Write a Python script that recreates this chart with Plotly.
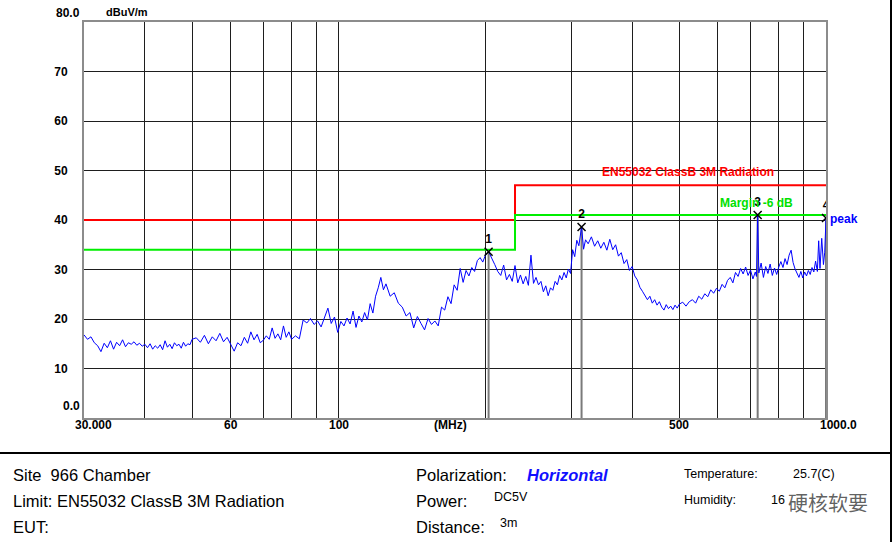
import math
import plotly.graph_objects as go

# ---------------- data ----------------
# measured peak trace: (frequency MHz, level dBuV/m)
trace_points = [
    (30.0, 16.8), (30.5, 15.9), (31.0, 16.4), (31.5, 15.2), (32.0, 14.6), (32.5, 13.4), (33.0, 15.1),
    (33.5, 14.2), (34.0, 15.6), (34.5, 13.9), (35.0, 15.3), (35.5, 14.6), (36.0, 15.8), (36.5, 14.4),
    (37.0, 15.2), (37.5, 14.9), (38.0, 15.4), (38.5, 14.7), (39.0, 15.1), (39.5, 14.5), (40.0, 14.9),
    (40.5, 14.2), (41.0, 15.0), (41.5, 13.9), (42.0, 14.6), (42.5, 14.1), (43.0, 14.8), (43.5, 13.8),
    (44.0, 15.6), (44.5, 14.3), (45.0, 14.9), (45.5, 14.0), (46.0, 15.2), (46.5, 14.6), (47.0, 14.9),
    (47.5, 14.1), (48.0, 15.3), (48.5, 14.5), (49.0, 15.0), (49.5, 14.8), (50.0, 15.9),
    (51, 16.2), (52, 15.3), (53, 16.7), (54, 15.0), (55, 16.4), (56, 15.6), (57, 17.1), (58, 15.4),
    (59, 16.3), (60, 14.9), (61, 13.5), (62, 15.2), (63, 14.6), (64, 16.3), (65, 15.1), (66, 17.4),
    (67, 15.8), (68, 16.9), (69, 15.2), (70, 15.7), (71, 16.6), (72, 15.9), (73, 18.2), (74, 16.1),
    (75, 17.0), (76, 15.8), (77, 18.6), (78, 16.3), (79, 17.4), (80, 15.9),
    (81.5, 16.6), (83, 16.0), (84.5, 19.8), (86, 19.2), (87.5, 20.1), (89, 18.9), (90.5, 19.6),
    (92, 18.4), (93.5, 20.3), (95, 22.2), (96.5, 19.1), (98, 20.4), (99.5, 17.3), (101, 19.5),
    (102.5, 18.6), (104, 20.2), (105.5, 19.0), (107, 21.6), (108.5, 18.3), (110, 20.6), (111.5, 19.4),
    (113, 21.3), (114.5, 19.8), (116, 23.1), (117.5, 21.2), (119, 24.6),
    (120.5, 26.3), (122, 28.4), (123.5, 25.9), (125, 27.1), (127.5, 24.6), (130, 25.3), (132.5, 23.2),
    (135, 22.4), (137.5, 20.6), (140, 21.3), (142.5, 18.2), (145, 20.5), (147.5, 19.1), (150, 17.8),
    (152.5, 20.1), (155, 18.9), (157.5, 19.6), (160, 18.6), (162.5, 22.4), (165, 21.8), (167.5, 24.5),
    (170, 23.1), (172.5, 26.9), (175, 25.8), (177.5, 30.2), (180, 27.4), (182.5, 29.8), (185, 28.7),
    (187.5, 30.4), (190, 29.6), (192.5, 31.8), (195, 32.4), (197.5, 31.5), (200, 32.9),
    (203, 33.6), (206, 32.4), (209, 31.0), (212, 29.6), (215, 28.8), (218, 30.9), (221, 27.9),
    (224, 29.0), (227, 27.6), (230, 30.8), (233, 27.3), (236, 28.9), (239, 27.1), (242, 28.6),
    (245, 26.8), (248, 32.9), (251, 27.2), (254, 28.4), (257, 26.9), (260, 27.6), (263, 25.5),
    (266, 26.7), (269, 24.7), (272, 26.3), (275, 25.8), (278, 27.6), (281, 26.9), (284, 28.8),
    (287, 27.9), (290, 29.4), (293, 28.3), (296, 30.1), (299, 29.2),
    (302, 34.0), (305, 32.6), (308, 35.9), (311, 34.8), (315, 38.6), (318, 34.1), (321, 36.0),
    (325, 35.2), (330, 36.6), (335, 34.7), (340, 35.8), (345, 34.3), (350, 35.5), (355, 33.9),
    (360, 36.1), (365, 34.0), (370, 35.0), (375, 32.7), (380, 33.4), (385, 31.2), (390, 32.0),
    (395, 29.8), (400, 30.6), (405, 28.7), (410, 27.9), (415, 26.4), (420, 25.6), (425, 24.8),
    (430, 23.9), (435, 24.6), (440, 23.2), (445, 23.9), (450, 22.8), (455, 23.5), (460, 22.4),
    (465, 21.8), (470, 22.9), (475, 22.1), (480, 22.6), (485, 21.9), (490, 22.8), (495, 22.2),
    (500, 23.0),
    (508, 23.4), (516, 22.6), (524, 23.5), (532, 23.9), (540, 23.2), (548, 24.6), (556, 24.0),
    (564, 25.1), (572, 24.5), (580, 25.9), (588, 25.2), (596, 26.2), (604, 25.6), (612, 27.0),
    (620, 26.3), (628, 27.8), (636, 28.4), (644, 27.3), (652, 29.4), (660, 28.6), (668, 30.2),
    (676, 29.1), (684, 30.5), (692, 28.8), (700, 29.9), (708, 28.1), (716, 29.5), (720, 28.6),
    (724, 41.0), (728, 29.3), (736, 31.3), (744, 28.4), (752, 30.6), (760, 29.2), (768, 31.1),
    (776, 28.8), (784, 30.3), (792, 29.0), (800, 30.5), (808, 31.6), (816, 30.4), (824, 32.2),
    (832, 31.0), (840, 32.9), (848, 33.9), (856, 31.4), (864, 30.1), (872, 29.2), (880, 28.4),
    (888, 29.6), (896, 28.3), (904, 29.5), (912, 28.7), (920, 29.8), (928, 29.0), (936, 30.4),
    (944, 29.5), (952, 31.7), (960, 29.6), (966, 35.8), (972, 30.2), (980, 36.3), (988, 31.0),
    (994, 33.5), (1000, 40.4),
]
trace_freq_mhz = [p[0] for p in trace_points]
trace_level_dbuv = [p[1] for p in trace_points]

limit_freq_mhz = [30, 230, 230, 1000]
limit_level_dbuv = [40, 40, 47, 47]
margin_freq_mhz = [30, 230, 230, 1000]
margin_level_dbuv = [34, 34, 41, 41]

marker_freq_mhz = [203, 315, 724, 1000]
marker_level_dbuv = [33.6, 38.6, 41.0, 40.4]
marker_labels = ["1", "2", "3", "4"]

y_tick_values = [10, 20, 30, 40, 50, 60, 70]
y_tick_labels = ["10", "20", "30", "40", "50", "60", "70"]
x_tick_values = [60, 100, 500]
x_tick_labels = ["60", "100", "500"]
x_grid_values = [40, 50, 60, 70, 80, 90, 100, 200, 300, 400, 500, 600, 700, 800, 900]

FONT = "Arial, Liberation Sans, sans-serif"

fig = go.Figure()

# marker drop lines
mx, my = [], []
for f, v in zip(marker_freq_mhz, marker_level_dbuv):
    mx += [f, f, None]
    my += [0, v, None]
fig.add_trace(go.Scatter(x=mx, y=my, mode="lines", line=dict(color="#7a7a7a", width=2),
                         hoverinfo="skip"))

# limit and margin
fig.add_trace(go.Scatter(x=limit_freq_mhz, y=limit_level_dbuv, mode="lines",
                         line=dict(color="#ff0000", width=2)))
fig.add_trace(go.Scatter(x=margin_freq_mhz, y=margin_level_dbuv, mode="lines",
                         line=dict(color="#00ee00", width=2)))

# measured trace
fig.add_trace(go.Scatter(x=trace_freq_mhz, y=trace_level_dbuv, mode="lines",
                         line=dict(color="#0000ff", width=1)))

# peak markers
fig.add_trace(go.Scatter(x=marker_freq_mhz, y=marker_level_dbuv, mode="markers+text",
                         text=marker_labels, textposition="top center",
                         textfont=dict(family=FONT, size=12, color="black", weight="bold"),
                         marker=dict(symbol="x-thin-open", size=8, color="black",
                                     line=dict(color="black", width=1.5))))

fig.update_layout(
    width=894, height=542,
    margin=dict(l=84, r=68, t=22, b=124),
    paper_bgcolor="white", plot_bgcolor="white",
    showlegend=False,
    font=dict(family=FONT, color="black"),
)

fig.update_xaxes(
    type="log", range=[math.log10(30), math.log10(1000)],
    tickmode="array", tickvals=x_tick_values, ticktext=x_tick_labels,
    showticklabels=False,
    showgrid=True, gridcolor="#1e1e1e", gridwidth=1,
    minor=dict(tickmode="array", tickvals=x_grid_values, showgrid=True,
               gridcolor="#1e1e1e", gridwidth=1, ticks=""),
    ticks="", showline=True, mirror=True, linecolor="#8c8c8c", linewidth=2, zeroline=False,
)
fig.update_yaxes(
    range=[0, 80],
    tickmode="array", tickvals=y_tick_values, ticktext=y_tick_labels,
    tickfont=dict(family=FONT, size=12, color="black", weight="bold"),
    showgrid=True, gridcolor="#1e1e1e", gridwidth=1,
    ticks="", ticklabelstandoff=12,
    showline=True, mirror=True, linecolor="#8c8c8c", linewidth=2, zeroline=False,
)

def px2x(px):
    return (px - 84) / 742.0

def px2y(py):
    return (418 - py) / 396.0

ann = []
def add(text, px, py, size=12, color="black", bold=False, italic=False, xanchor="left",
        family=FONT):
    t = text
    if bold:
        t = "<b>" + t + "</b>"
    if italic:
        t = "<i>" + t + "</i>"
    ann.append(dict(text=t, x=px2x(px), y=px2y(py), xref="paper", yref="paper",
                    xanchor=xanchor, yanchor="middle", showarrow=False,
                    font=dict(family=family, size=size, color=color)))

# x tick labels placed through the x axis
for v, lab in zip(x_tick_values, x_tick_labels):
    ann.append(dict(text="<b>" + lab + "</b>", x=math.log10(v), y=px2y(425), xref="x",
                    yref="paper", xanchor="center", yanchor="middle", showarrow=False,
                    font=dict(family=FONT, size=12, color="black")))

# axis extras
add("80.0", 82, 13, bold=True, xanchor="right")
add("0.0", 82, 406, bold=True, xanchor="right")
add("dBuV/m", 104, 12, size=11, bold=True)
add("30.000", 93, 425, bold=True, xanchor="center")
add("(MHz)", 450, 425, bold=True, xanchor="center")
add("1000.0", 838, 425, bold=True, xanchor="center")

# in-plot labels
add("EN55032 ClassB 3M Radiation", 688, 172, bold=True, color="#ff0000", xanchor="center")
add("Margin -6 dB", 756, 203, bold=True, color="#00e000", xanchor="center")
add("peak", 828, 219, bold=True, color="#0000ff")

# footer
add("Site  966 Chamber", 11, 475, size=16.5)
add("Limit: EN55032 ClassB 3M Radiation", 11, 501, size=16.5)
add("EUT:", 11, 527, size=16.5)
add("Polarization:", 414, 475, size=16.5)
add("Horizontal", 525, 475, size=16.5, bold=True, italic=True, color="#1010ff")
add("Power:", 414, 501, size=16.5)
add("DC5V", 492, 497, size=12.5)
add("Distance:", 414, 527, size=16.5)
add("3m", 498, 523, size=12.5)
add("Temperature:", 682, 474, size=12.5)
add("25.7(C)", 791, 474, size=12.5)
add("Humidity:", 682, 500, size=12.5)
add("16", 769, 500, size=12.5)
add("硬核软要", 786, 503, size=20, color="rgba(70,70,70,0.85)",
    family="Noto Sans CJK SC")

fig.update_layout(annotations=ann)

# footer frame lines
fig.add_shape(type="line", xref="paper", yref="paper", x0=px2x(0), x1=px2x(891),
              y0=px2y(453), y1=px2y(453), line=dict(color="black", width=2))
fig.add_shape(type="line", xref="paper", yref="paper", x0=px2x(891), x1=px2x(891),
              y0=px2y(0), y1=px2y(542), line=dict(color="black", width=2))

fig.write_html("out.html", config={"displayModeBar": False},
               post_script="document.body.style.margin='0px';")
